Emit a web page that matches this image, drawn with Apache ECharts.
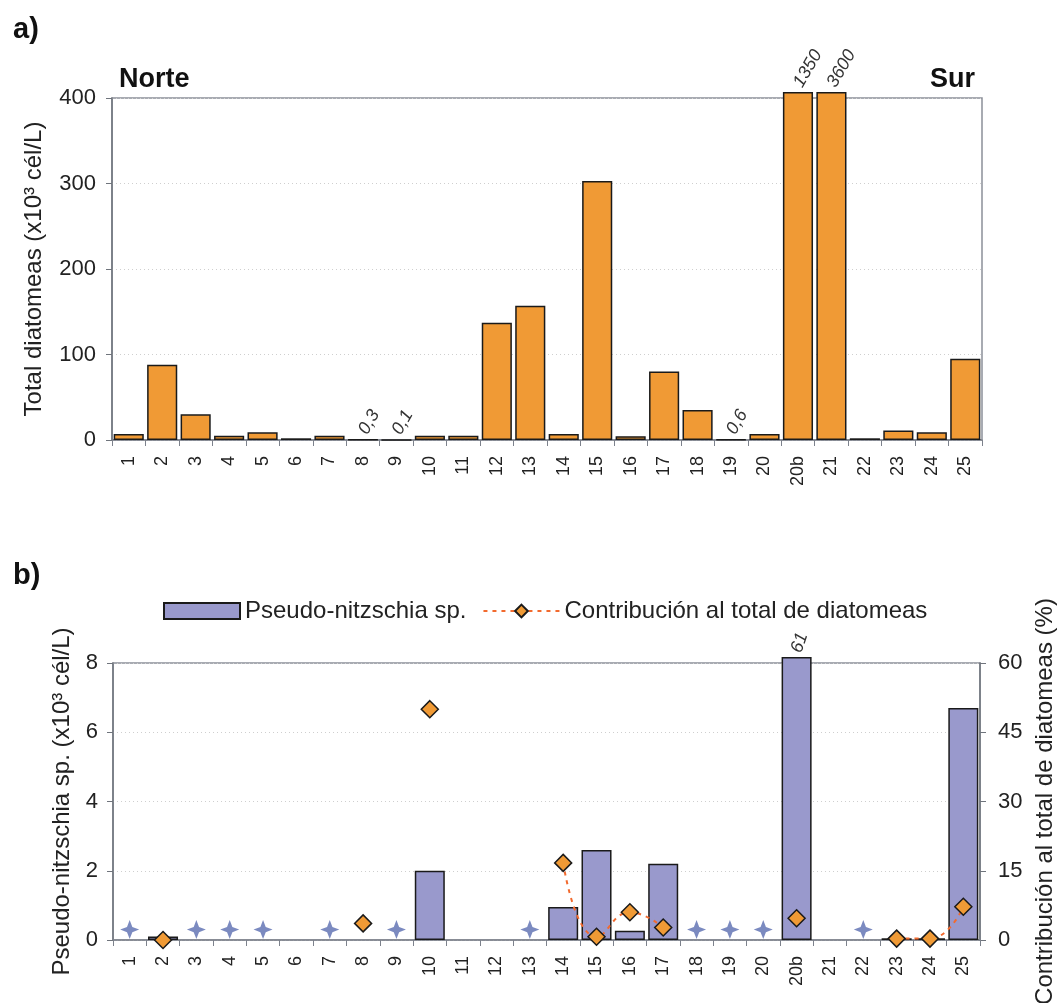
<!DOCTYPE html>
<html>
<head>
<meta charset="utf-8">
<script src="https://cdn.jsdelivr.net/npm/echarts@6/dist/echarts.min.js"></script>
<style>
  html, body { margin: 0; padding: 0; background: #fff; }
  #chart { width: 1059px; height: 1003px; }
</style>
</head>
<body>
<div id="chart"></div>
<script>
// estaciones (norte -> sur)
const stations = ['1', '2', '3', '4', '5', '6', '7', '8', '9', '10', '11', '12', '13',
  '14', '15', '16', '17', '18', '19', '20', '20b', '21', '22', '23', '24', '25']

// a) total diatomeas (x10^3 cél/L)
const totalDiatoms = [7, 88, 30, 5, 9, 2, 5, 0.3, 0.1, 5, 5, 137, 157,
  7, 303, 4.5, 80, 35, 0.6, 7, 1350, 3600, 2, 11, 9, 95]
const totalLabels = ['', '', '', '', '', '', '', '0,3', '0,1', '', '', '', '',
  '', '', '', '', '', '0,6', '', '1350', '3600', '', '', '', '']

// b) Pseudo-nitzschia sp. (x10^3 cél/L) y contribución (%)
const pnValues = [null, 0.1, null, null, null, null, null, null, null, 2.0, null, null, null,
  0.95, 2.6, 0.27, 2.2, null, null, null, 61, null, null, 0.05, 0.05, 6.7]
const pnLabels = ['', '', '', '', '', '', '', '', '', '', '', '', '',
  '', '', '', '', '', '', '', '61', '', '', '', '', '']
const contribution = [null, 0, null, null, null, null, null, 3.6, null, 50, null, null, null,
  16.7, 0.7, 6, 2.7, null, null, null, 4.7, null, null, 0.3, 0.3, 7.2]
// estrellas: estaciones sin detección
const notDetected = [0.3, null, 0.3, 0.3, 0.3, null, 0.3, null, 0.3, null, null, null, 0.3,
  null, null, null, null, 0.3, 0.3, 0.3, null, null, 0.3, null, null, null]

const yTicksA = [0, 100, 200, 300, 400]
const yTicksB = [0, 2, 4, 6, 8]
const yTicksB2 = [0, 15, 30, 45, 60]

// bars off the scale are drawn just past the top of the frame
const capA = 407
const capB = 8.17

const font = 'Liberation Sans, Arial, sans-serif'
const star = 'path://M0,-10 L2.8,-2.8 L10,0 L2.8,2.8 L0,10 L-2.8,2.8 L-10,0 L-2.8,-2.8 Z'

const chart = echarts.init(document.getElementById('chart'))

const catAxis = (gridIndex) => ({
  type: 'category',
  gridIndex,
  data: stations,
  axisLine: { lineStyle: { color: '#7d828c', width: 1.5 } },
  axisTick: { show: true, length: 6, lineStyle: { color: '#7d828c' } },
  axisLabel: { interval: 0, rotate: 90, fontSize: 18, color: '#222', fontFamily: font, margin: 16 }
})

const valAxis = (gridIndex, ticks, name, nameGap, position, margin) => ({
  type: 'value',
  gridIndex,
  position,
  min: ticks[0],
  max: ticks[ticks.length - 1],
  interval: ticks[1] - ticks[0],
  name,
  nameLocation: 'middle',
  nameGap,
  nameTextStyle: { fontSize: 24, color: '#222', fontFamily: font },
  axisLine: { show: true, lineStyle: { color: '#6f747c', width: 1.5 } },
  axisTick: { show: true, length: 6, lineStyle: { color: '#6f747c' } },
  axisLabel: { fontSize: 22, color: '#222', fontFamily: font, margin },
  splitLine: { show: false }
})

const gridLines = { show: true, lineStyle: { color: '#cfcfcf', type: [1, 3] } }

const option = {
  animation: false,
  backgroundColor: '#fff',
  textStyle: { fontFamily: font },
  title: [
    { text: 'a)', left: 8, top: 10, textStyle: { fontSize: 29, fontWeight: 'bold', color: '#111', fontFamily: font } },
    { text: 'Norte', left: 114, top: 61, textStyle: { fontSize: 27, fontWeight: 'bold', color: '#111', fontFamily: font } },
    { text: 'Sur', right: 79, top: 61, textStyle: { fontSize: 27, fontWeight: 'bold', color: '#111', fontFamily: font } },
    { text: 'b)', left: 8, top: 556, textStyle: { fontSize: 29, fontWeight: 'bold', color: '#111', fontFamily: font } }
  ],
  legend: {
    top: 594,
    left: 158,
    itemWidth: 76,
    itemHeight: 16,
    itemGap: 16,
    textStyle: { fontSize: 24, color: '#222', fontFamily: font },
    data: [
      { name: 'Pseudo-nitzschia sp.', icon: 'rect' },
      { name: 'Contribución al total de diatomeas' }
    ]
  },
  grid: [
    { left: 112, top: 98, right: 77, height: 342, outerBoundsMode: 'none', show: true, borderColor: '#8c9099', borderWidth: 1.5 },
    { left: 113, top: 663, right: 79, height: 277, outerBoundsMode: 'none', show: true, borderColor: '#8c9099', borderWidth: 1.5 }
  ],
  xAxis: [catAxis(0), catAxis(1)],
  yAxis: [
    Object.assign(valAxis(0, yTicksA, 'Total diatomeas (x10³ cél/L)', 66, 'left', 16), { splitLine: gridLines }),
    Object.assign(valAxis(1, yTicksB, 'Pseudo-nitzschia sp. (x10³ cél/L)', 35, 'left', 15), { splitLine: gridLines }),
    valAxis(1, yTicksB2, 'Contribución al total de diatomeas (%)', 53, 'right', 18)
  ],
  series: [
    {
      name: 'Total diatomeas',
      type: 'bar',
      xAxisIndex: 0,
      yAxisIndex: 0,
      barCategoryGap: '10%',
      clip: false,
      itemStyle: { color: '#f09a35', borderColor: '#1a1a1a', borderWidth: 1.5 },
      label: {
        show: true,
        position: 'top',
        rotate: 60,
        align: 'left',
        verticalAlign: 'middle',
        distance: 6,
        fontSize: 18,
        fontStyle: 'italic',
        color: '#333',
        fontFamily: font,
        formatter: (p) => totalLabels[p.dataIndex]
      },
      data: totalDiatoms.map((v) => Math.min(v, capA))
    },
    {
      name: 'Pseudo-nitzschia sp.',
      type: 'bar',
      xAxisIndex: 1,
      yAxisIndex: 1,
      barCategoryGap: '10%',
      clip: false,
      itemStyle: { color: '#9999cc', borderColor: '#1a1a1a', borderWidth: 1.5 },
      label: {
        show: true,
        position: 'top',
        rotate: 72,
        align: 'left',
        verticalAlign: 'middle',
        distance: 5,
        fontSize: 18,
        fontStyle: 'italic',
        color: '#333',
        fontFamily: font,
        formatter: (p) => pnLabels[p.dataIndex]
      },
      data: pnValues.map((v) => (v === null ? '-' : Math.min(v, capB)))
    },
    {
      name: 'No detectado',
      type: 'scatter',
      xAxisIndex: 1,
      yAxisIndex: 1,
      symbol: star,
      symbolSize: 19,
      itemStyle: { color: '#5a6db0' },
      data: notDetected.map((v) => (v === null ? '-' : v))
    },
    {
      name: 'Contribución al total de diatomeas',
      type: 'line',
      xAxisIndex: 1,
      yAxisIndex: 2,
      smooth: true,
      connectNulls: false,
      symbol: 'diamond',
      symbolSize: 17,
      lineStyle: { color: '#f26a2e', width: 2, type: [4, 5] },
      itemStyle: { color: '#f09a35', borderColor: '#1a1a1a', borderWidth: 1.5 },
      z: 5,
      data: contribution.map((v) => (v === null ? '-' : v))
    }
  ]
}

chart.setOption(option)
</script>
</body>
</html>
